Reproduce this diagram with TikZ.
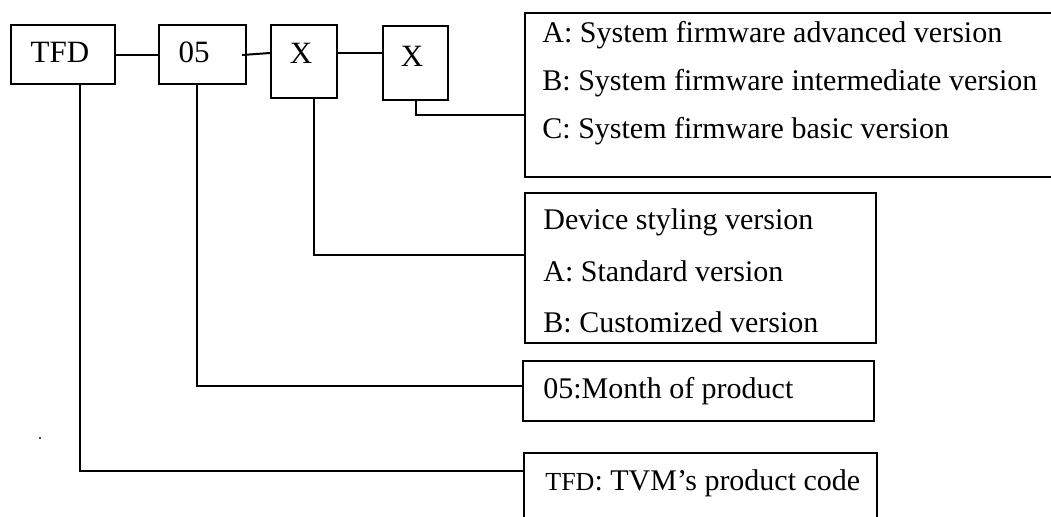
\documentclass[tikz,border=0pt]{standalone}
\usepackage{fontspec}
\setmainfont{Liberation Serif}
\usetikzlibrary{calc}
\begin{document}
\begin{tikzpicture}[x=0.5pt,y=-0.5pt,
  box/.style={draw, line width=1pt, inner sep=0pt, anchor=north west},
  txt/.style={anchor=base west, inner sep=0pt, font=\fontsize{15}{18}\selectfont},
  ctr/.style={anchor=base, inner sep=0pt, font=\fontsize{15.5}{18}\selectfont},
  link/.style={draw, line width=1pt}]
\useasboundingbox (0,0) rectangle (1051,516);

% code digits
\node[box, minimum width=52pt, minimum height=29.5pt] (tfd) at (10,24) {};
\node[box, minimum width=43.5pt, minimum height=29.5pt] (n05) at (158,24) {};
\node[box, minimum width=33pt, minimum height=36.5pt] (x1) at (270,24) {};
\node[box, minimum width=32.5pt, minimum height=37pt] (x2) at (382,25) {};
\node[ctr] (tfdt) at (60,62.5) {TFD};
\node[ctr] (n05t) at (194,62.5) {05};
\node[ctr] (x1t) at (301,63) {X};
\node[ctr] (x2t) at (412,66) {X};

% explanation boxes
\node[box, minimum width=270pt, minimum height=82pt] (top) at (524,12) {};
\node[box, minimum width=175.5pt, minimum height=75pt] (dev) at (524,192) {};
\node[box, minimum width=175.5pt, minimum height=30pt] (month) at (522,360) {};
\node[box, minimum width=176.5pt, minimum height=50pt] (code) at (523,452) {};

\node[txt] (fa) at (542,42) {A: System firmware advanced version};
\node[txt] (fb) at (542,90) {B: System firmware intermediate version};
\node[txt] (fc) at (542,138) {C: System firmware basic version};

\node[txt] (da) at (543,229) {Device styling version};
\node[txt] (db) at (543,281) {A: Standard version};
\node[txt] (dc) at (543,332) {B: Customized version};

\node[txt] (mt) at (543,398) {05:Month of product};
\node[txt] (ct) at (545,490) {{\fontsize{13}{15}\selectfont TFD}: TVM’s product code};

\node[circle, fill, inner sep=0pt, minimum size=1.2pt] (dot) at (40,438) {};

% connectors between digits
\draw[link] (tfd.east) -- (n05.west);
\draw[link] ($(n05.east)+(-5,0.5)$) -- ($(x1.west)+(0,-8.5)$);
\draw[link] ($(x1.east)+(0,-8.5)$) -- ($(x2.west)+(0,-10)$);

% leaders to explanations
\draw[link] (x2.south) |- ($(top.west)+(0,20)$);
\draw[link] ($(x1.south)+(10,0)$) |- ($(dev.west)+(0,-13)$);
\draw[link] ($(n05.south)+(-5.5,0)$) |- ($(month.west)+(0,-5)$);
\draw[link] ($(tfd.south)+(17,0)$) |- ($(code.west)+(0,-32)$);
\end{tikzpicture}
\end{document}
